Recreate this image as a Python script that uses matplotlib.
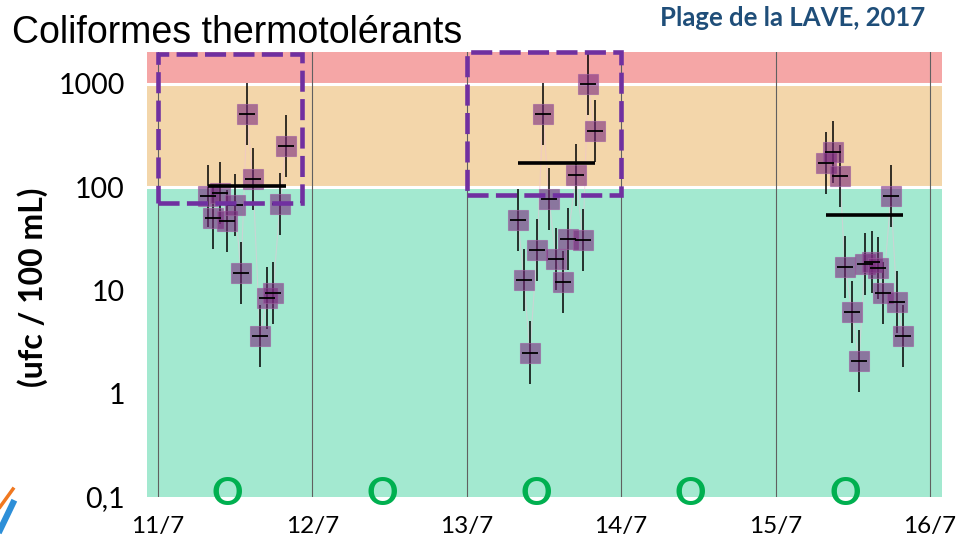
import numpy as np
import matplotlib
matplotlib.use('Agg')
import matplotlib.pyplot as plt
from matplotlib.patches import Rectangle
from matplotlib.lines import Line2D
import matplotlib.transforms as mtransforms

# ---- data ----
day_labels = ['11/7', '12/7', '13/7', '14/7', '15/7', '16/7']
day_ticks = [0, 1, 2, 3, 4, 5]
rating_days = [0, 1, 2, 3, 4]
rating_labels = ['O', 'O', 'O', 'O', 'O']

t1 = [0.324, 0.356, 0.400, 0.447, 0.499, 0.538, 0.576, 0.615, 0.661, 0.706, 0.745, 0.790, 0.829]
v1 = [82, 50, 88, 47, 67, 14.7, 510, 120, 3.6, 8.4, 9.4, 68, 250]
t2 = [2.332, 2.370, 2.409, 2.455, 2.494, 2.532, 2.578, 2.623, 2.655, 2.707, 2.753, 2.785, 2.830]
v2 = [48, 12.6, 2.5, 24.6, 511, 77, 20.1, 12.1, 31.4, 131, 30.7, 995, 349]
t3 = [4.326, 4.372, 4.417, 4.449, 4.495, 4.540, 4.579, 4.624, 4.663, 4.696, 4.747, 4.786, 4.825]
v3 = [171, 219, 128, 16.9, 6.2, 2.07, 18.0, 18.8, 16.5, 9.4, 82, 7.7, 3.6]
err_factor = 2.0

thresholds = [100, 1000]
box1 = [0.0, 0.93, 70, 1960]
box2 = [2.0, 3.0, 84, 2020]

# ---- figure ----
W, H = 958, 553
fig = plt.figure(figsize=(W / 100, H / 100), dpi=100)
ax = fig.add_axes([147 / W, 1 - 497 / H, (942 - 147) / W, (497 - 52) / H])
ax.set_yscale('log')
ymin, ymax = 0.1, 2030
ax.set_ylim(ymin, ymax)
ax.set_xlim(-0.071, 5.078)

# coloured bands
ax.axhspan(ymin, thresholds[0], color='#A3E9D0', lw=0, zorder=0)
ax.axhspan(thresholds[0], thresholds[1], color='#F3D6AA', lw=0, zorder=0)
ax.axhspan(thresholds[1], ymax, color='#F5A6A6', lw=0, zorder=0)
for th in thresholds:
    ax.axhline(th, color='white', lw=2.2, zorder=1)
for d in day_ticks:
    ax.axvline(d, color='#606060', lw=0.8, zorder=1)

for t, v in [(t1, v1), (t2, v2), (t3, v3)]:
    t = np.array(t); v = np.array(v)
    ax.plot(t, v, color='#f0c0d8', lw=0.8, alpha=0.5, zorder=2)
    ax.errorbar(t, v, yerr=[v - v / err_factor, v * err_factor - v], fmt='none',
                ecolor='black', elinewidth=1.1, capsize=0, zorder=3)
    ax.plot(t, v, 's', ms=14.5, mfc='#7A2A7E', mec='#9C5C9E', mew=0.8, alpha=0.6,
            ls='none', zorder=4)
    ax.plot(t, v, '_', ms=12, mec='black', mew=1.3, ls='none', zorder=5)
    m = np.mean(v)
    ax.plot([t[0], t[-1]], [m, m], color='black', lw=2.6, zorder=6, solid_capstyle='butt')

for b in (box1, box2):
    r = Rectangle((b[0], b[2]), b[1] - b[0], b[3] - b[2], fill=False,
                  ec='#7030A0', lw=3.3, ls=(0, (4.6, 1.6)), zorder=7, clip_on=False)
    ax.add_patch(r)

trans = mtransforms.blended_transform_factory(ax.transData, ax.transAxes)
for d, lab in zip(rating_days, rating_labels):
    ax.text(d + 0.45, 0.008, lab, transform=trans, ha='center', va='center',
            fontsize=28, fontweight='bold', color='#00B050', family='Lato', zorder=8)

# axes styling
for s in ax.spines.values():
    s.set_visible(False)
ax.set_yticks([0.1, 1, 10, 100, 1000])
ax.set_yticklabels(['0,1', '1', '10', '100', '1000'], family='Lato', fontsize=20.5)
ax.yaxis.set_minor_locator(matplotlib.ticker.NullLocator())
ax.set_xticks(day_ticks)
ax.set_xticklabels(day_labels, family='Lato', fontsize=17.5)
ax.tick_params(axis='both', length=0)
ax.tick_params(axis='y', pad=16)
ax.tick_params(axis='x', pad=14)

fig.text(33 / W, 1 - 287 / H, '(ufc / 100 mL)', rotation=90, ha='center', va='center',
         fontsize=23, fontweight='bold', family='Lato')
fig.text(12 / W, 1 - 43 / H, 'Coliformes thermotolérants', ha='left', va='baseline',
         fontsize=27, family='Liberation Sans')
fig.text(925 / W, 1 - 26 / H, 'Plage de la LAVE, 2017', ha='right', va='baseline',
         fontsize=18.5, fontweight='bold', family='Lato', color='#1F4E79')

# logo fragment
fig.add_artist(Line2D([0 / W, 13 / W], [1 - 507 / H, 1 - 489 / H], color='#F07820', lw=2.5,
                      transform=fig.transFigure))
fig.add_artist(Line2D([0 / W, 13 / W], [1 - 530 / H, 1 - 503 / H], color='#2D8FD8', lw=4.5,
                      transform=fig.transFigure))

fig.savefig('out.png', dpi=100)
